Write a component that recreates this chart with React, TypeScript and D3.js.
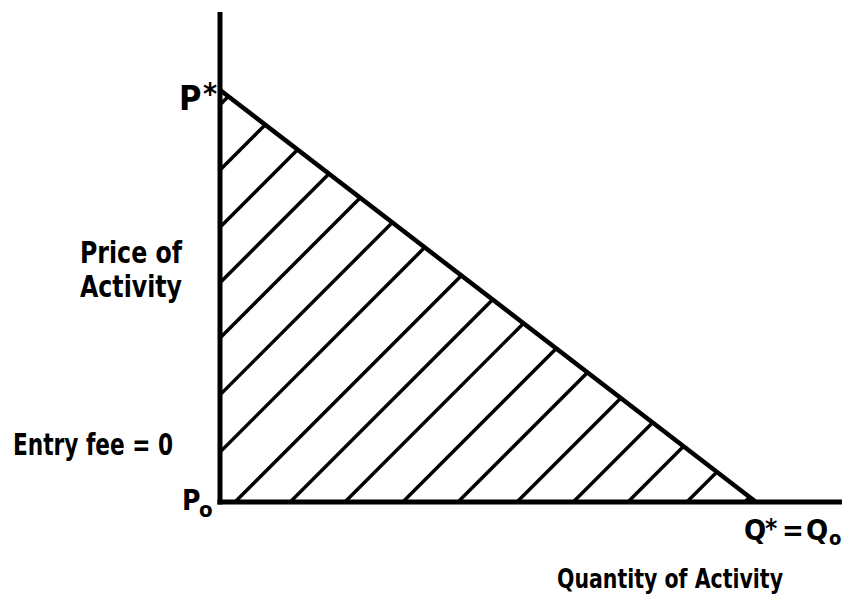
import React from "react";
import * as d3 from "d3";

// Demand: price at zero quantity (P*) and quantity at zero price (Q*)
const demandPoints: [number, number][] = [
  [0, 100],
  [100, 0],
];
// Hatch line start points along the price axis (price units)
const hatchOnPriceAxis = [12.1, 26.0, 39.8, 53.2, 66.7, 80.6, 96.4];
// Hatch line start points along the quantity axis (quantity units)
const hatchOnQuantityAxis = [2.8, 13.1, 23.3, 34.1, 44.4, 55.4, 65.9, 76.1, 87.1, 97.9];

const W = 844;
const H = 606;
const FONT = "'Liberation Sans Narrow', 'DejaVu Sans Condensed', 'Liberation Sans', sans-serif";

export default function App() {
  const x = d3.scaleLinear().domain([0, 100]).range([220, 756]);
  const y = d3.scaleLinear().domain([0, 100]).range([502, 90]);
  const xAxisEnd = 842;
  const yAxisTop = 12;

  const line = d3
    .line<[number, number]>()
    .x((d) => x(d[0]))
    .y((d) => y(d[1]));

  const tri: [number, number][] = [[0, 0], ...demandPoints];
  const triPath = line(tri) + "Z";

  // 45° hatch in pixel space, extended well beyond and clipped to the triangle
  const starts: [number, number][] = [
    ...hatchOnPriceAxis.map((p) => [x(0), y(p)] as [number, number]),
    ...hatchOnQuantityAxis.map((q) => [x(q), y(0)] as [number, number]),
  ];
  const L = 700;

  return (
    <svg
      width={W}
      height={H}
      style={{ position: "absolute", left: 0, top: 0, background: "#fff" }}
    >
      <defs>
        <clipPath id="triClip">
          <path d={triPath} />
        </clipPath>
      </defs>
      <rect x={0} y={0} width={W} height={H} fill="#fff" />
      <g clipPath="url(#triClip)">
        {starts.map(([sx, sy], i) => (
          <line
            key={i}
            x1={sx - 20}
            y1={sy + 20}
            x2={sx + L}
            y2={sy - L}
            stroke="#000"
            strokeWidth={3.5}
          />
        ))}
      </g>
      {/* demand line */}
      <path d={line(demandPoints) || ""} stroke="#000" strokeWidth={4.5} fill="none" />
      {/* axes */}
      <line x1={x(0)} y1={yAxisTop} x2={x(0)} y2={y(0) + 2.5} stroke="#000" strokeWidth={5} />
      <line x1={x(0) - 2.5} y1={y(0)} x2={xAxisEnd} y2={y(0)} stroke="#000" strokeWidth={5} />

      <g fontFamily={FONT} fontWeight="bold" fill="#000">
        <text x={179} y={110} fontSize={34}>P</text>
        <text x={203} y={104} fontSize={30}>*</text>
        <text x={80} y={263} fontSize={30} textLength={102} lengthAdjust="spacingAndGlyphs">
          Price of
        </text>
        <text x={80} y={297} fontSize={30} textLength={102} lengthAdjust="spacingAndGlyphs">
          Activity
        </text>
        <text x={13} y={455} fontSize={30} textLength={160} lengthAdjust="spacingAndGlyphs">
          Entry fee = 0
        </text>
        <text x={182} y={510} fontSize={28}>P</text>
        <text x={199} y={517} fontSize={22}>o</text>
        <text x={744} y={540} fontSize={29}>Q</text>
        <text x={765} y={538} fontSize={26}>*</text>
        <text x={782} y={540} fontSize={29}>=</text>
        <text x={806} y={540} fontSize={29}>Q</text>
        <text x={829} y={545} fontSize={20}>o</text>
        <text x={557} y={588} fontSize={27} textLength={226} lengthAdjust="spacingAndGlyphs">
          Quantity of Activity
        </text>
      </g>
    </svg>
  );
}
